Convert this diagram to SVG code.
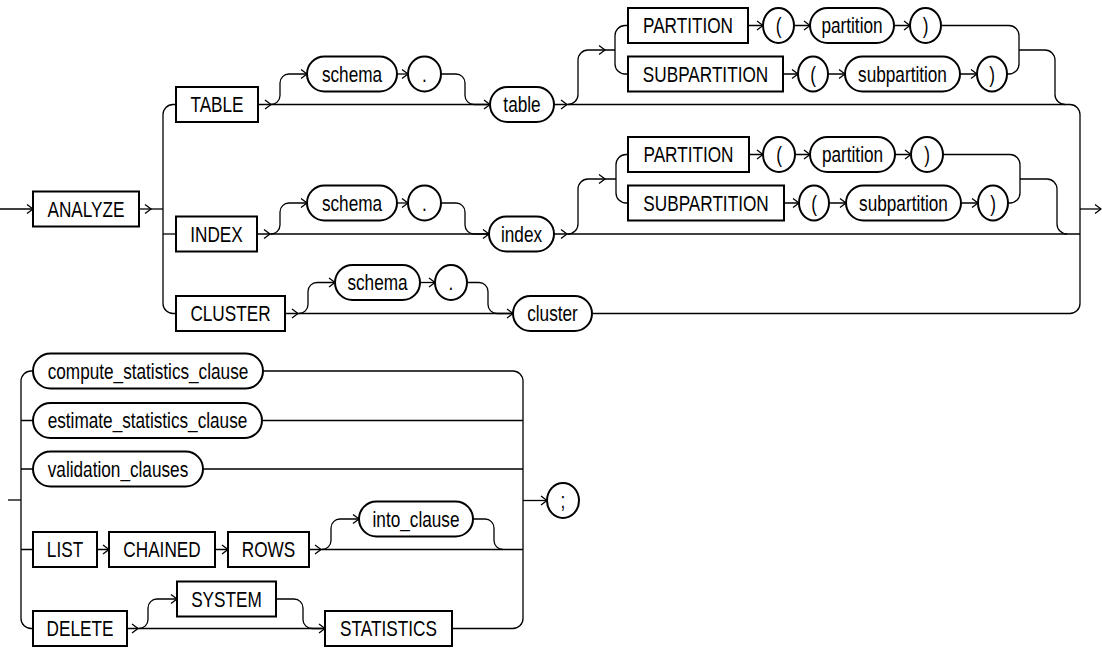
<svg xmlns="http://www.w3.org/2000/svg" width="1102" height="649" viewBox="0 0 1102 649">
<defs>
<style>
.box{fill:#fff;stroke:#000;stroke-width:2}
.ln{fill:none;stroke:#000;stroke-width:1.3}
.t{font-family:"Liberation Sans",Arial,sans-serif;font-size:21.5px;fill:#000;text-anchor:middle}
</style>
<path id="ch" d="M-6,-4.5 L0,0 L-6,4.5" fill="none" stroke="#000" stroke-width="1.3"/>
</defs>
<rect width="1102" height="649" fill="#fff"/>
<g id="connectors">
<!-- top section -->
<path class="ln" d="M0,209 H33"/>
<path class="ln" d="M139,209 H163"/>
<path class="ln" d="M176,104.5 H173 A10,10 0 0 0 163,114.5 V303.5 A10,10 0 0 0 173,313.5 H176"/>
<path class="ln" d="M163,234 H176"/>
<!-- row 1 -->
<path class="ln" d="M258,104.5 H490"/>
<path class="ln" d="M271,104.5 A9,9 0 0 0 280,95.5 V83 A9,9 0 0 1 289,74 H307"/>
<path class="ln" d="M397,74 H408"/>
<path class="ln" d="M441,74 H456 A9,9 0 0 1 465,83 V95.5 A9,9 0 0 0 474,104.5 H490"/>
<path class="ln" d="M568,104.5 A10,10 0 0 0 578,94.5 V60 A10,10 0 0 1 588,50 H615"/>
<path class="ln" d="M628,25.5 H625 A10,10 0 0 0 615,35.5 V64 A10,10 0 0 0 625,74 H628"/>
<path class="ln" d="M748,25.5 H763 M794,25.5 H810 M894,25.5 H910"/>
<path class="ln" d="M783,74 H798 M828,74 H845 M960,74 H977"/>
<path class="ln" d="M941,25.5 H1009 A10,10 0 0 1 1019,35.5 V64 A10,10 0 0 1 1009,74 H1007"/>
<path class="ln" d="M1019,50 H1045 A10,10 0 0 1 1055,60 V94.5 A10,10 0 0 0 1065,104.5"/>
<path class="ln" d="M554,104.5 H1070 A10,10 0 0 1 1080,114.5 V303.5 A10,10 0 0 1 1070,313.5 H592"/>
<path class="ln" d="M1080,209 H1101"/>
<!-- row 2 -->
<path class="ln" d="M257,234 H489"/>
<path class="ln" d="M271,234 A9,9 0 0 0 280,225 V212 A9,9 0 0 1 289,203 H307"/>
<path class="ln" d="M397,203 H408"/>
<path class="ln" d="M441,203 H456 A9,9 0 0 1 465,212 V225 A9,9 0 0 0 474,234 H489"/>
<path class="ln" d="M554,234 H1080"/>
<path class="ln" d="M568,234 A10,10 0 0 0 578,224 V189 A10,10 0 0 1 588,179 H616"/>
<path class="ln" d="M628,154.5 H626 A10,10 0 0 0 616,164.5 V193 A10,10 0 0 0 626,203 H628"/>
<path class="ln" d="M749,154.5 H763 M795,154.5 H810 M895,154.5 H911"/>
<path class="ln" d="M784,203 H799 M829,203 H846 M961,203 H978"/>
<path class="ln" d="M943,154.5 H1010 A10,10 0 0 1 1020,164.5 V193 A10,10 0 0 1 1010,203 H1008"/>
<path class="ln" d="M1020,179 H1047 A10,10 0 0 1 1057,189 V224 A10,10 0 0 0 1067,234"/>
<!-- row 3 -->
<path class="ln" d="M285,313.5 H513"/>
<path class="ln" d="M299,313.5 A9,9 0 0 0 308,304.5 V291.5 A9,9 0 0 1 317,282.5 H335"/>
<path class="ln" d="M420,282.5 H435"/>
<path class="ln" d="M467,282.5 H479 A9,9 0 0 1 488,291.5 V304.5 A9,9 0 0 0 497,313.5 H513"/>
<!-- bottom section -->
<path class="ln" d="M8,500 H21"/>
<path class="ln" d="M33,371 H31 A10,10 0 0 0 21,381 V618.5 A10,10 0 0 0 31,628.5 H33"/>
<path class="ln" d="M21,420.5 H33 M21,469 H33 M21,549.5 H33"/>
<path class="ln" d="M263,371 H513 A10,10 0 0 1 523,381 V618.5 A10,10 0 0 1 513,628.5 H452"/>
<path class="ln" d="M262,420.5 H523 M203,469 H523 M309,549.5 H523"/>
<path class="ln" d="M523,500.5 H547"/>
<path class="ln" d="M97,549.5 H109 M215,549.5 H228"/>
<path class="ln" d="M322,549.5 A9,9 0 0 0 331,540.5 V528 A9,9 0 0 1 340,519 H359"/>
<path class="ln" d="M473,519 H485 A9,9 0 0 1 494,528 V540.5 A9,9 0 0 0 503,549.5"/>
<path class="ln" d="M127,628.5 H325"/>
<path class="ln" d="M139,628.5 A9,9 0 0 0 148,619.5 V608 A9,9 0 0 1 157,599 H177"/>
<path class="ln" d="M276,599 H294 A9,9 0 0 1 303,608 V619.5 A9,9 0 0 0 312,628.5 H325"/>
<!-- arrowheads -->
<use href="#ch" x="33" y="209"/><use href="#ch" x="151" y="209"/>
<use href="#ch" x="271" y="104.5"/><use href="#ch" x="307" y="74"/><use href="#ch" x="408" y="74"/>
<use href="#ch" x="490" y="104.5"/><use href="#ch" x="567" y="104.5"/><use href="#ch" x="605" y="50"/>
<use href="#ch" x="763" y="25.5"/><use href="#ch" x="810" y="25.5"/><use href="#ch" x="910" y="25.5"/>
<use href="#ch" x="798" y="74"/><use href="#ch" x="845" y="74"/><use href="#ch" x="977" y="74"/>
<use href="#ch" x="270" y="234"/><use href="#ch" x="307" y="203"/><use href="#ch" x="408" y="203"/>
<use href="#ch" x="489" y="234"/><use href="#ch" x="567" y="234"/><use href="#ch" x="605" y="179"/>
<use href="#ch" x="763" y="154.5"/><use href="#ch" x="810" y="154.5"/><use href="#ch" x="911" y="154.5"/>
<use href="#ch" x="799" y="203"/><use href="#ch" x="846" y="203"/><use href="#ch" x="978" y="203"/>
<use href="#ch" x="298" y="313.5"/><use href="#ch" x="335" y="282.5"/><use href="#ch" x="435" y="282.5"/><use href="#ch" x="513" y="313.5"/>
<use href="#ch" x="1101" y="209"/>
<use href="#ch" x="109" y="549.5"/><use href="#ch" x="228" y="549.5"/><use href="#ch" x="321" y="549.5"/>
<use href="#ch" x="359" y="519"/><use href="#ch" x="547" y="500.5"/>
<use href="#ch" x="138" y="628.5"/><use href="#ch" x="177" y="599"/><use href="#ch" x="325" y="628.5"/>
</g>
<!-- nodes -->
<g id="n-analyze"><rect class="box" x="33" y="191.5" width="106" height="35"/><text class="t" transform="translate(86,216.5) scale(0.8,1)">ANALYZE</text></g>
<g id="n-table-kw"><rect class="box" x="176" y="87" width="82" height="35"/><text class="t" transform="translate(217,112) scale(0.8,1)">TABLE</text></g>
<g id="n-schema1"><rect class="box" x="307" y="56.5" width="90" height="35" rx="17.5"/><text class="t" transform="translate(352,81.5) scale(0.8,1)">schema</text></g>
<g id="n-dot1"><rect class="box" x="408" y="56.5" width="33" height="35" rx="16.5" ry="17.5"/><text class="t" transform="translate(424.5,81.5) scale(0.8,1)">.</text></g>
<g id="n-table"><rect class="box" x="490" y="87" width="64" height="35" rx="17.5"/><text class="t" transform="translate(522,112) scale(0.8,1)">table</text></g>
<g id="n-partition-kw1"><rect class="box" x="628" y="8" width="120" height="35"/><text class="t" transform="translate(688,33) scale(0.8,1)">PARTITION</text></g>
<g id="n-lp1"><rect class="box" x="763" y="8" width="31" height="35" rx="15.5" ry="17.5"/><text class="t" transform="translate(778.5,33) scale(0.8,1)">(</text></g>
<g id="n-partition1"><rect class="box" x="810" y="8" width="84" height="35" rx="17.5"/><text class="t" transform="translate(852,33) scale(0.8,1)">partition</text></g>
<g id="n-rp1"><rect class="box" x="910" y="8" width="31" height="35" rx="15.5" ry="17.5"/><text class="t" transform="translate(925.5,33) scale(0.8,1)">)</text></g>
<g id="n-subpartition-kw1"><rect class="box" x="628" y="56.5" width="155" height="35"/><text class="t" transform="translate(705.5,81.5) scale(0.8,1)">SUBPARTITION</text></g>
<g id="n-lp1b"><rect class="box" x="798" y="56.5" width="30" height="35" rx="15" ry="17.5"/><text class="t" transform="translate(813,81.5) scale(0.8,1)">(</text></g>
<g id="n-subpartition1"><rect class="box" x="845" y="56.5" width="115" height="35" rx="17.5"/><text class="t" transform="translate(902.5,81.5) scale(0.8,1)">subpartition</text></g>
<g id="n-rp1b"><rect class="box" x="977" y="56.5" width="30" height="35" rx="15" ry="17.5"/><text class="t" transform="translate(992,81.5) scale(0.8,1)">)</text></g>

<g id="n-index-kw"><rect class="box" x="176" y="216.5" width="81" height="35"/><text class="t" transform="translate(216.5,241.5) scale(0.8,1)">INDEX</text></g>
<g id="n-schema2"><rect class="box" x="307" y="185.5" width="90" height="35" rx="17.5"/><text class="t" transform="translate(352,210.5) scale(0.8,1)">schema</text></g>
<g id="n-dot2"><rect class="box" x="408" y="185.5" width="33" height="35" rx="16.5" ry="17.5"/><text class="t" transform="translate(424.5,210.5) scale(0.8,1)">.</text></g>
<g id="n-index"><rect class="box" x="489" y="216.5" width="65" height="35" rx="17.5"/><text class="t" transform="translate(521.5,241.5) scale(0.8,1)">index</text></g>
<g id="n-partition-kw2"><rect class="box" x="628" y="137" width="121" height="35"/><text class="t" transform="translate(688.5,162) scale(0.8,1)">PARTITION</text></g>
<g id="n-lp2"><rect class="box" x="763" y="137" width="32" height="35" rx="16" ry="17.5"/><text class="t" transform="translate(779,162) scale(0.8,1)">(</text></g>
<g id="n-partition2"><rect class="box" x="810" y="137" width="85" height="35" rx="17.5"/><text class="t" transform="translate(852.5,162) scale(0.8,1)">partition</text></g>
<g id="n-rp2"><rect class="box" x="911" y="137" width="32" height="35" rx="16" ry="17.5"/><text class="t" transform="translate(927,162) scale(0.8,1)">)</text></g>
<g id="n-subpartition-kw2"><rect class="box" x="628" y="185.5" width="156" height="35"/><text class="t" transform="translate(706,210.5) scale(0.8,1)">SUBPARTITION</text></g>
<g id="n-lp2b"><rect class="box" x="799" y="185.5" width="30" height="35" rx="15" ry="17.5"/><text class="t" transform="translate(814,210.5) scale(0.8,1)">(</text></g>
<g id="n-subpartition2"><rect class="box" x="846" y="185.5" width="115" height="35" rx="17.5"/><text class="t" transform="translate(903.5,210.5) scale(0.8,1)">subpartition</text></g>
<g id="n-rp2b"><rect class="box" x="978" y="185.5" width="30" height="35" rx="15" ry="17.5"/><text class="t" transform="translate(993,210.5) scale(0.8,1)">)</text></g>

<g id="n-cluster-kw"><rect class="box" x="176" y="296" width="109" height="35"/><text class="t" transform="translate(230.5,321) scale(0.8,1)">CLUSTER</text></g>
<g id="n-schema3"><rect class="box" x="335" y="265" width="85" height="35" rx="17.5"/><text class="t" transform="translate(377.5,290) scale(0.8,1)">schema</text></g>
<g id="n-dot3"><rect class="box" x="435" y="265" width="32" height="35" rx="16" ry="17.5"/><text class="t" transform="translate(451,290) scale(0.8,1)">.</text></g>
<g id="n-cluster"><rect class="box" x="513" y="296" width="79" height="35" rx="17.5"/><text class="t" transform="translate(552.5,321) scale(0.8,1)">cluster</text></g>

<g id="n-compute"><rect class="box" x="33" y="353.5" width="230" height="35" rx="17.5"/><text class="t" transform="translate(148,378.5) scale(0.8,1)">compute_statistics_clause</text></g>
<g id="n-estimate"><rect class="box" x="33" y="403" width="229" height="35" rx="17.5"/><text class="t" transform="translate(147.5,428) scale(0.8,1)">estimate_statistics_clause</text></g>
<g id="n-validation"><rect class="box" x="33" y="451.5" width="170" height="35" rx="17.5"/><text class="t" transform="translate(118,476.5) scale(0.8,1)">validation_clauses</text></g>
<g id="n-list"><rect class="box" x="33" y="532" width="64" height="35"/><text class="t" transform="translate(65,557) scale(0.8,1)">LIST</text></g>
<g id="n-chained"><rect class="box" x="109" y="532" width="106" height="35"/><text class="t" transform="translate(162,557) scale(0.8,1)">CHAINED</text></g>
<g id="n-rows"><rect class="box" x="228" y="532" width="81" height="35"/><text class="t" transform="translate(268.5,557) scale(0.8,1)">ROWS</text></g>
<g id="n-into"><rect class="box" x="359" y="501.5" width="114" height="35" rx="17.5"/><text class="t" transform="translate(416,526.5) scale(0.8,1)">into_clause</text></g>
<g id="n-delete"><rect class="box" x="33" y="611" width="94" height="35"/><text class="t" transform="translate(80,636) scale(0.8,1)">DELETE</text></g>
<g id="n-system"><rect class="box" x="177" y="581.5" width="99" height="35"/><text class="t" transform="translate(226.5,606.5) scale(0.8,1)">SYSTEM</text></g>
<g id="n-statistics"><rect class="box" x="325" y="611" width="127" height="35"/><text class="t" transform="translate(388.5,636) scale(0.8,1)">STATISTICS</text></g>
<g id="n-semicolon"><rect class="box" x="547" y="483" width="32" height="35" rx="16" ry="17.5"/><text class="t" transform="translate(563,508) scale(0.8,1)">;</text></g>
</svg>
